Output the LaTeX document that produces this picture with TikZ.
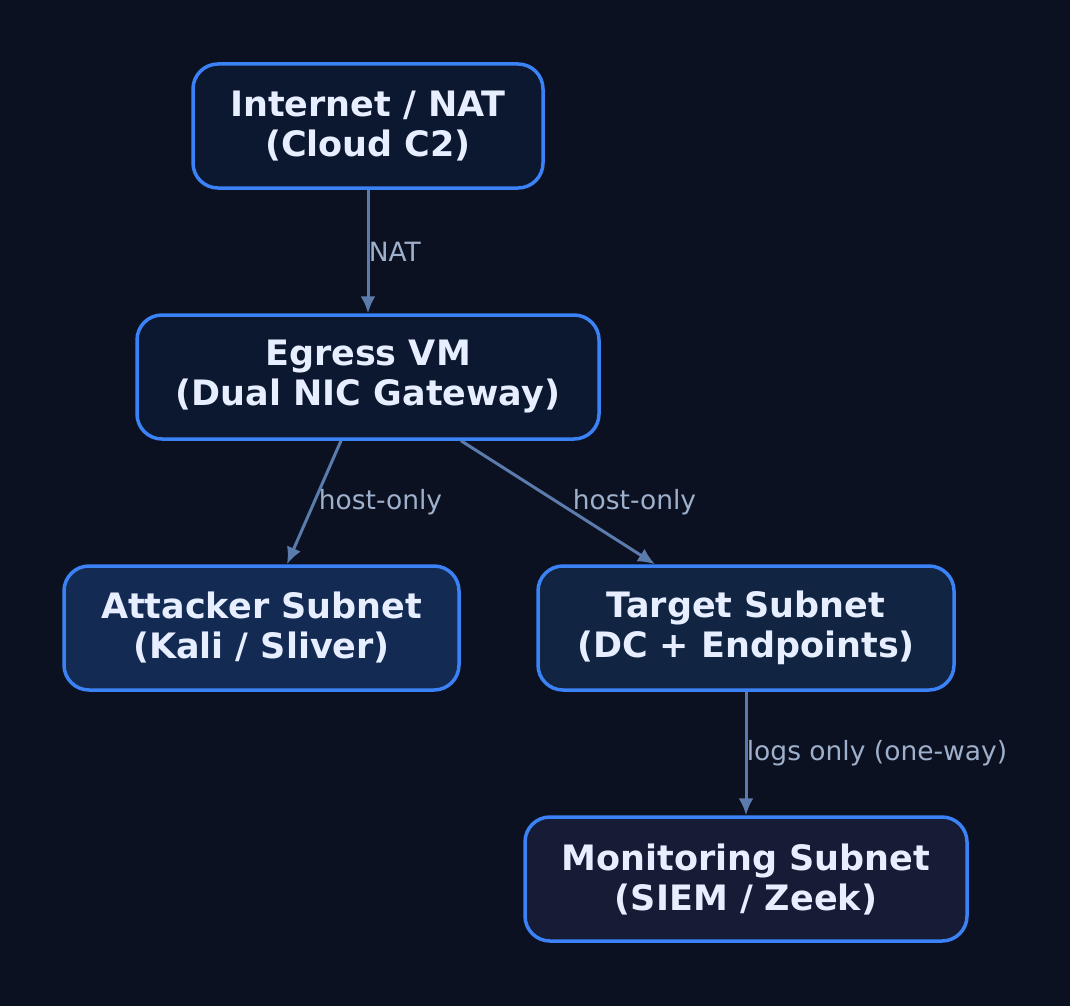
\documentclass[tikz,border=0pt]{standalone}
\usepackage{fontspec}
\setmainfont{DejaVu Sans}
\usetikzlibrary{positioning,calc,arrows.meta}
\definecolor{bgdark}{HTML}{0B1120}
\definecolor{boxline}{HTML}{3B82F6}
\definecolor{boxfill}{HTML}{0C1730}
\definecolor{attfill}{HTML}{132A52}
\definecolor{tgtfill}{HTML}{112543}
\definecolor{monfill}{HTML}{161B36}
\definecolor{edgecol}{HTML}{5B7BAD}
\definecolor{labcol}{HTML}{9FB0CC}
\definecolor{txtcol}{HTML}{E6EEFF}
\tikzset{
  netbox/.style={draw=boxline, line width=3.5pt, rounded corners=25pt, fill=boxfill,
    minimum height=124pt, align=center, text=txtcol,
    font=\fontsize{35}{40}\selectfont\bfseries},
  link/.style={draw=edgecol, line width=3pt, -{Latex[length=17pt,width=15pt]}},
  linklabel/.style={text=labcol, font=\fontsize{26.5}{30}\selectfont, anchor=west}
}
\begin{document}
\begin{tikzpicture}[x=1pt,y=-1pt]
  % Background
  \fill[bgdark] (0,0) rectangle (1070,1006);
  \useasboundingbox (0,0) rectangle (1070,1006);

  % Boxes
  \node[netbox, minimum width=350pt] (inet) at (368,126) {Internet / NAT\\(Cloud C2)};
  \node[netbox, minimum width=462pt] (egress) at (368,377) {Egress VM\\(Dual NIC Gateway)};
  \node[netbox, minimum width=395pt, fill=attfill] (attack) at (261.5,628) {Attacker Subnet\\(Kali / Sliver)};
  \node[netbox, minimum width=416pt, fill=tgtfill] (target) at (746,628) {Target Subnet\\(DC + Endpoints)};
  \node[netbox, minimum width=442pt, fill=monfill] (monitor) at (746,879) {Monitoring Subnet\\(SIEM / Zeek)};

  % Links
  \draw[link] (inet.south) -- (egress.north)
    node[linklabel, midway, xshift=-4pt] {NAT};
  \draw[link] ($(egress.south)+(-27,0)$) -- ($(attack.north)+(25.5,0)$)
    node[linklabel, pos=0.5, xshift=0pt] {host-only};
  \draw[link] ($(egress.south)+(93,0)$) -- ($(target.north)+(-91,0)$)
    node[linklabel, pos=0.5, xshift=10pt] {host-only};
  \draw[link] (target.south) -- (monitor.north)
    node[linklabel, midway, xshift=-4pt] {logs only (one-way)};
\end{tikzpicture}
\end{document}
